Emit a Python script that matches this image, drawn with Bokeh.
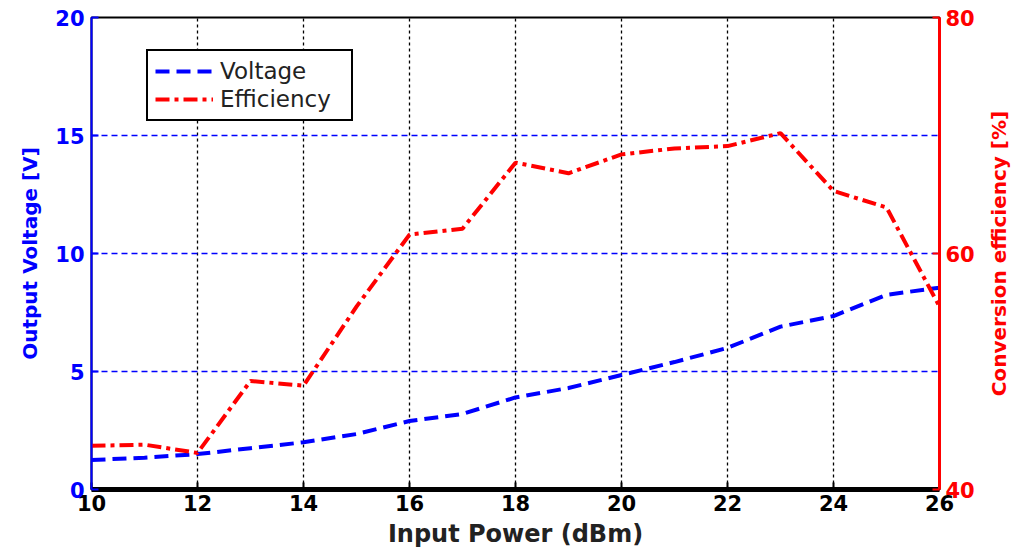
from bokeh.plotting import figure
from bokeh.layouts import row
from bokeh.models import Range1d, LinearAxis, FixedTicker, Legend, LegendItem
from bokeh.embed import file_html
from bokeh.resources import INLINE

input_power = list(range(10, 27))
voltage = [1.25, 1.35, 1.5, 1.75, 2.0, 2.35, 2.9, 3.2, 3.9, 4.3, 4.85, 5.4, 6.0, 6.9, 7.35, 8.25, 8.55]
efficiency = [43.7, 43.8, 43.1, 49.2, 48.8, 55.5, 61.6, 62.1, 67.7, 66.8, 68.4, 68.9, 69.1, 70.2, 65.3, 63.9, 55.5]
x_ticks = [10, 12, 14, 16, 18, 20, 22, 24, 26]
v_ticks = [0, 5, 10, 15, 20]
e_ticks = [40, 60, 80]

FONT = "DejaVu Sans"

p = figure(frame_width=848, frame_height=472, output_backend="svg", toolbar_location=None,
           x_range=Range1d(10, 26), y_range=Range1d(0, 20),
           min_border_left=91, min_border_right=40, min_border_top=17, min_border_bottom=62,
           background_fill_color="white", border_fill_color="white")
p.extra_y_ranges = {"eff": Range1d(40, 80)}
p.outline_line_color = "black"
p.outline_line_width = 2

# grids
p.xgrid.ticker = FixedTicker(ticks=x_ticks[1:-1])
p.xgrid.grid_line_color = "black"
p.xgrid.grid_line_dash = "3 3"
p.xgrid.grid_line_width = 1.3
p.ygrid.ticker = FixedTicker(ticks=v_ticks[1:-1])
p.ygrid.grid_line_color = "blue"
p.ygrid.grid_line_dash = "6 4"
p.ygrid.grid_line_width = 1.3

# x axis
xa = p.xaxis[0]
xa.ticker = FixedTicker(ticks=x_ticks)
xa.axis_line_color = "black"
xa.axis_line_width = 5
xa.major_tick_in = 7
xa.major_tick_out = 0
xa.major_tick_line_color = "black"
xa.major_tick_line_width = 2
xa.minor_tick_line_color = None
xa.major_label_text_font = FONT
xa.major_label_text_font_style = "bold"
xa.major_label_text_font_size = "21px"
xa.major_label_text_color = "black"
xa.major_label_standoff = 5
xa.axis_label = "Input Power (dBm)"
xa.axis_label_text_font = FONT
xa.axis_label_text_font_style = "bold"
xa.axis_label_text_font_size = "24px"
xa.axis_label_text_color = "#222222"
xa.axis_label_standoff = 6

# left axis
ya = p.yaxis[0]
ya.ticker = FixedTicker(ticks=v_ticks)
ya.axis_line_color = "blue"
ya.axis_line_width = 2
ya.major_tick_in = 7
ya.major_tick_out = 0
ya.major_tick_line_color = "blue"
ya.major_tick_line_width = 2
ya.minor_tick_line_color = None
ya.major_label_text_font = FONT
ya.major_label_text_font_style = "bold"
ya.major_label_text_font_size = "21px"
ya.major_label_text_color = "blue"
ya.major_label_standoff = 7
ya.axis_label = "Output Voltage [V]"
ya.axis_label_text_font = FONT
ya.axis_label_text_font_style = "bold"
ya.axis_label_text_font_size = "20px"
ya.axis_label_text_color = "blue"
ya.axis_label_standoff = 10

# right axis (ticks only; its title is drawn by the narrow side figure)
ra = LinearAxis(y_range_name="eff", ticker=FixedTicker(ticks=e_ticks))
ra.axis_line_color = "red"
ra.axis_line_width = 3
ra.major_tick_in = 7
ra.major_tick_out = 0
ra.major_tick_line_color = "red"
ra.major_tick_line_width = 2
ra.minor_tick_line_color = None
ra.major_label_text_font = FONT
ra.major_label_text_font_style = "bold"
ra.major_label_text_font_size = "21px"
ra.major_label_text_color = "red"
ra.major_label_standoff = 6
p.add_layout(ra, "right")

# lines
r_v = p.line(input_power, voltage, line_color="blue", line_width=4, line_dash="14 7")
r_e = p.line(input_power, efficiency, y_range_name="eff", line_color="red", line_width=4,
             line_dash="14 5 4 5")

legend = Legend(items=[LegendItem(label="Voltage", renderers=[r_v]),
                       LegendItem(label="Efficiency", renderers=[r_e])],
                location=(55, 368), orientation="vertical")
legend.border_line_color = "black"
legend.border_line_width = 2
legend.border_line_alpha = 1
legend.background_fill_color = "white"
legend.background_fill_alpha = 1
legend.label_text_font = FONT
legend.label_text_font_size = "23px"
legend.label_text_color = "#222222"
legend.glyph_width = 58
legend.glyph_height = 20
legend.label_height = 20
legend.label_width = 124
legend.label_standoff = 7
legend.padding = 7
legend.spacing = 2
legend.margin = 0
p.add_layout(legend, "center")

# narrow side figure carrying the right-hand title, reading bottom to top
p2 = figure(frame_width=1, frame_height=472, output_backend="svg", toolbar_location=None,
            x_range=Range1d(0, 1), y_range=Range1d(40, 80),
            min_border_left=31, min_border_right=0, min_border_top=17, min_border_bottom=62,
            background_fill_color="white", border_fill_color="white")
p2.outline_line_color = None
p2.grid.visible = False
p2.xaxis.visible = False
y2 = p2.yaxis[0]
y2.ticker = FixedTicker(ticks=[])
y2.axis_line_color = None
y2.major_tick_line_color = None
y2.minor_tick_line_color = None
y2.major_label_text_font_size = "0px"
y2.major_label_standoff = 0
y2.major_tick_in = 0
y2.major_tick_out = 0
y2.axis_label = "Conversion efficiency [%]"
y2.axis_label_text_font = FONT
y2.axis_label_text_font_style = "bold"
y2.axis_label_text_font_size = "20px"
y2.axis_label_text_color = "red"
y2.axis_label_standoff = 0

layout = row(p, p2)
open("out.html", "w").write(file_html(layout, INLINE))
